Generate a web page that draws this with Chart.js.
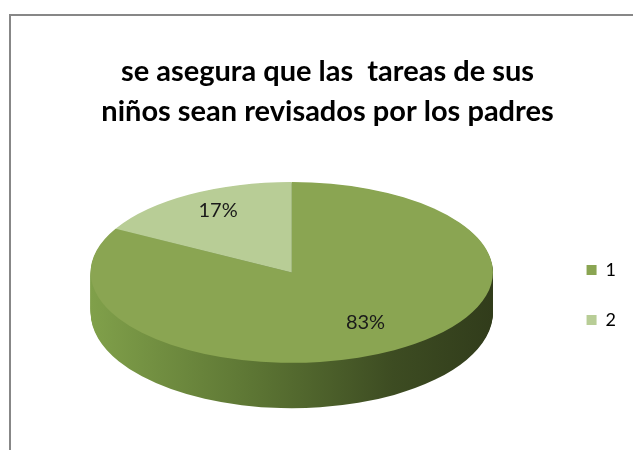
<!DOCTYPE html>
<html><head><meta charset="utf-8">
<script src="https://cdn.jsdelivr.net/npm/chart.js@4/dist/chart.umd.min.js"></script>
<style>html,body{margin:0;padding:0;background:#fff;}</style>
</head><body>
<canvas id="c" width="633" height="450"></canvas>
<script>
const titleLines = ['se asegura que las  tareas de sus', 'niños sean revisados por los padres'];
const categories = ['1', '2'];
const values = [83, 17];
const percentLabels = ['83%', '17%'];
const sliceColors = ['#8aa552', '#b8cd96'];

// 3D look (style constants)
const TILT = 0.8, STRETCH = 1.78, DEPTH = 40, BOTTOM_GROW = 0.06, LABEL_R = 0.72, LABEL_LIFT = 6;

function faceGeom(chart, arc, t) {
  const R = arc.outerRadius;
  const cy0 = chart.chartArea.top + R * TILT;
  return {cx: arc.x, cy: cy0 + DEPTH * t, sx: STRETCH, sy: TILT * (1 + BOTTOM_GROW * t)};
}
function applyFace(ctx, arc, g) {
  ctx.translate(g.cx, g.cy); ctx.scale(g.sx, g.sy); ctx.translate(-arc.x, -arc.y);
}

const frame = {
  id: 'frame',
  beforeDraw(chart) {
    const ctx = chart.ctx;
    ctx.save();
    ctx.fillStyle = '#ffffff'; ctx.fillRect(0, 0, chart.width, chart.height);
    ctx.strokeStyle = '#878787'; ctx.lineWidth = 2;
    ctx.strokeRect(10, 15, chart.width + 20, chart.height + 20);
    ctx.restore();
  }
};

const pie3d = {
  id: 'pie3d',
  beforeDatasetsDraw(chart) {
    const ctx = chart.ctx;
    const arcs = chart.getDatasetMeta(0).data;
    const a0 = arcs[0];
    const R = a0.outerRadius;
    const grad = ctx.createLinearGradient(a0.x - R, 0, a0.x + R, 0);
    grad.addColorStop(0, '#80a04a');
    grad.addColorStop(0.4, '#5d7634');
    grad.addColorStop(0.75, '#3d4c22');
    grad.addColorStop(1, '#313c1b');
    for (let i = DEPTH; i >= 1; i--) {
      ctx.save();
      applyFace(ctx, a0, faceGeom(chart, a0, i / DEPTH));
      arcs.forEach(arc => {
        const orig = arc.options;
        arc.options = Object.assign({}, orig, {backgroundColor: grad, borderWidth: 0});
        arc.draw(ctx);
        arc.options = orig;
      });
      ctx.restore();
    }
    ctx.save();
    applyFace(ctx, a0, faceGeom(chart, a0, 0));
  },
  afterDatasetsDraw(chart) {
    const ctx = chart.ctx;
    ctx.restore();
    const arcs = chart.getDatasetMeta(0).data;
    const a0 = arcs[0];
    const g = faceGeom(chart, a0, 0);
    ctx.save();
    ctx.font = '20px Lato';
    ctx.fillStyle = '#1a1a1a';
    ctx.textAlign = 'center'; ctx.textBaseline = 'middle';
    arcs.forEach((arc, i) => {
      const mid = (arc.startAngle + arc.endAngle) / 2;
      const r = arc.outerRadius * LABEL_R;
      const px = Math.cos(mid) * r * g.sx + g.cx;
      const py = Math.sin(mid) * r * g.sy + g.cy - LABEL_LIFT;
      ctx.fillText(percentLabels[i], px, py);
    });
    ctx.restore();
  }
};

new Chart(document.getElementById('c'), {
  type: 'pie',
  data: {
    labels: categories,
    datasets: [{data: values, backgroundColor: sliceColors, borderWidth: 0, clip: false}]
  },
  options: {
    responsive: false,
    animation: false,
    events: [],
    layout: {padding: {top: 0, left: 29, right: 7, bottom: 42}},
    plugins: {
      title: {
        display: true,
        text: titleLines,
        color: '#000000',
        font: {family: 'Lato', size: 29, weight: 'bold', lineHeight: 40 / 29},
        padding: {top: 52, bottom: 50}
      },
      legend: {
        position: 'right',
        fullSize: false,
        labels: {
          color: '#000000',
          font: {family: 'Lato', size: 18},
          boxWidth: 10, boxHeight: 10,
          padding: 32
        }
      },
      tooltip: {enabled: false}
    }
  },
  plugins: [frame, pie3d]
});
</script>
</body></html>
